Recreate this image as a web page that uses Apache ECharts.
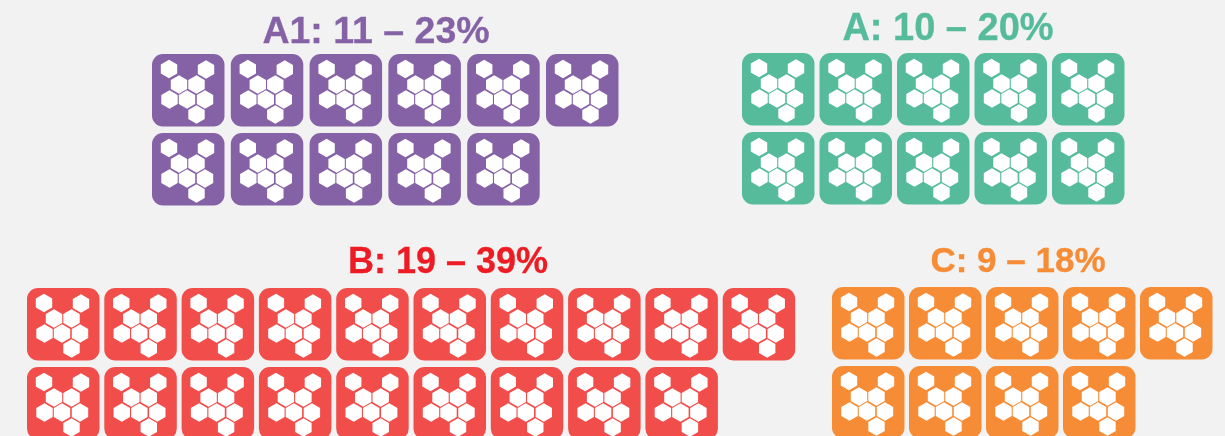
<!DOCTYPE html>
<html>
<head>
<meta charset="utf-8">
<title>Icon counts by group</title>
<script src="https://cdn.jsdelivr.net/npm/echarts@6/dist/echarts.min.js"></script>
<style>
html, body { margin: 0; padding: 0; background: #f2f2f2; }
#chart { width: 1225px; height: 436px; }
</style>
</head>
<body>
<div id="chart"></div>
<script>
const groupNames = ['A1', 'A', 'B', 'C']
const groupCounts = [11, 10, 19, 9]
const groupShares = ['23%', '20%', '39%', '18%']
const perRow = [6, 5, 10, 5]

const colors = ['#8562a5', '#55bb9b', '#f14d4b', '#f68c35']
const titleColors = ['#8562a5', '#55bb9b', '#ed1c24', '#f68c35']

// left, top, column pitch, row pitch of each block of tiles
const blocks = [
  { left: 152, top: 54, dx: 78.8, dy: 79 },
  { left: 742, top: 53, dx: 77.5, dy: 79 },
  { left: 27, top: 288, dx: 77.3, dy: 79 },
  { left: 832, top: 287, dx: 77, dy: 79 }
]
const titles = [
  { x: 376, y: 14, size: 37.5 },
  { x: 948, y: 11, size: 38 },
  { x: 448, y: 245, size: 36 },
  { x: 1018, y: 245, size: 35 }
]

const TILE = 72.5
// half width and half height of a hexagon
const HEX_W = 8.2
const HEX_H = 9.2
// hexagon centres inside a tile
const hexCentres = [[17, 15], [54, 15.5], [27, 30.5], [44.5, 30.5], [17.5, 45.5], [35, 45.5], [53, 45.5], [44.5, 60.5]]

const hexPoints = (cx, cy) => [
  [cx, cy - HEX_H],
  [cx + HEX_W, cy - HEX_H / 2],
  [cx + HEX_W, cy + HEX_H / 2],
  [cx, cy + HEX_H],
  [cx - HEX_W, cy + HEX_H / 2],
  [cx - HEX_W, cy - HEX_H / 2]
]

const renderTile = color => (params, api) => {
  const [x, y] = api.coord([api.value(0), api.value(1)])
  const children = [{
    type: 'rect',
    shape: { x, y, width: TILE, height: TILE, r: 11 },
    style: { fill: color }
  }]
  hexCentres.forEach(([hx, hy]) => {
    children.push({
      type: 'polygon',
      shape: { points: hexPoints(x + hx, y + hy) },
      style: { fill: '#fff' }
    })
  })
  return { type: 'group', children }
}

const tileCells = (count, cols) => {
  const cells = []
  for (let i = 0; i < count; i++) cells.push([i % cols, Math.floor(i / cols)])
  return cells
}

const chart = echarts.init(document.getElementById('chart'))

chart.setOption({
  animation: false,
  backgroundColor: '#f2f2f2',
  title: groupNames.map((name, i) => ({
    text: `${name}: ${groupCounts[i]} – ${groupShares[i]}`,
    left: titles[i].x,
    top: titles[i].y,
    textAlign: 'center',
    padding: 0,
    textStyle: {
      color: titleColors[i],
      fontFamily: 'Liberation Sans',
      fontWeight: 'bold',
      fontSize: titles[i].size,
      textBorderColor: titleColors[i],
      textBorderWidth: 0.3
    }
  })),
  // the bottom row runs past the canvas, so no fitting to the outer bounds
  grid: blocks.map((b, i) => ({
    left: b.left,
    top: b.top,
    width: b.dx * perRow[i],
    height: b.dy * 2,
    outerBoundsMode: 'none'
  })),
  xAxis: blocks.map((b, i) => ({ type: 'value', gridIndex: i, min: 0, max: perRow[i], show: false })),
  yAxis: blocks.map((b, i) => ({ type: 'value', gridIndex: i, min: 0, max: 2, inverse: true, show: false })),
  series: groupNames.map((name, i) => ({
    name,
    type: 'custom',
    xAxisIndex: i,
    yAxisIndex: i,
    clip: false,
    encode: { x: 0, y: 1 },
    renderItem: renderTile(colors[i]),
    data: tileCells(groupCounts[i], perRow[i])
  }))
})
</script>
</body>
</html>
